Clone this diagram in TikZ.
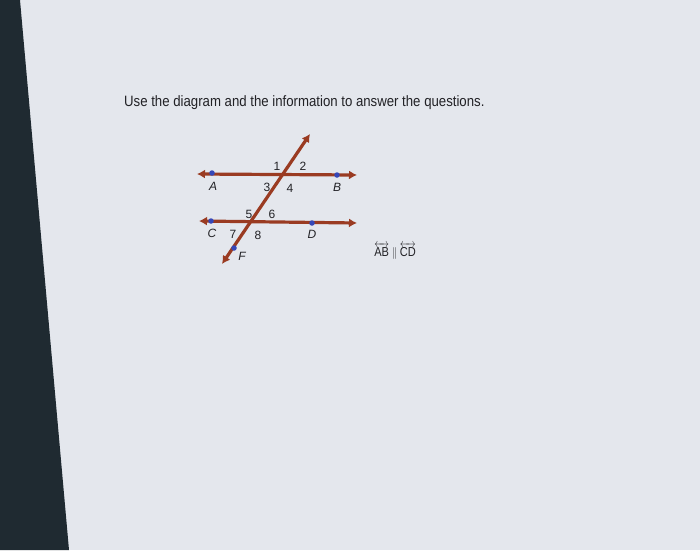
\documentclass[tikz,border=0pt]{standalone}
\usepackage{amsmath}
\usepackage{fontspec}
\setmainfont{Liberation Sans}
\usepackage{tikz}
\usetikzlibrary{positioning, arrows.meta, calc}
\definecolor{screen}{HTML}{E4E7ED}
\definecolor{bezel}{HTML}{1F2A31}
\definecolor{linered}{HTML}{9A3B22}
\definecolor{dotblue}{HTML}{3547B8}
\definecolor{inkgray}{HTML}{222226}

\begin{document}
\begin{tikzpicture}[x=1pt, y=-1pt,
    rayline/.style={draw=linered, line width=3.2pt,
        {Latex[length=8pt,width=9pt]}-{Latex[length=8pt,width=9pt]}},
    dotpt/.style={circle, fill=dotblue, inner sep=0pt, minimum size=5.5pt},
    ptlabel/.style={font=\fontsize{12}{14}\selectfont\itshape, text=inkgray},
    anglabel/.style={font=\fontsize{12}{14}\selectfont, text=inkgray}]

    % screen and monitor edge
    \fill[screen] (0,0) rectangle (700,550);
    \useasboundingbox (0,0) rectangle (700,550);
    \fill[bezel] (0,0) -- (20,0) -- (69,550) -- (0,550) -- cycle;

    % question text
    \node[anchor=base west, inner sep=0pt, text=inkgray,
        font=\fontsize{15}{18}\selectfont] (question) at (124,106)
        {\scalebox{0.88}[1]{Use the diagram and the information to answer the questions.}};

    % ends of the lines
    \coordinate (ABleft) at (197,174);
    \coordinate (ABright) at (357,175);
    \coordinate (CDleft) at (199,221);
    \coordinate (CDright) at (357,223);
    \coordinate (Ftop) at (310,134);
    \coordinate (Fbot) at (222,264);

    \draw[rayline] (ABleft) -- (ABright);
    \draw[rayline] (CDleft) -- (CDright);
    \draw[rayline] (Fbot) -- (Ftop);

    % points and their names
    \foreach \point/\px/\py/\lx/\ly in {
        A/212/173/213/186,
        B/337/175/337/187,
        C/211/221/212/233,
        D/312/223/312/234,
        F/234/248/242/256}{
        \node[dotpt] (\point) at (\px,\py) {};
        \node[ptlabel] (lab\point) at (\lx,\ly) {\point};
    }

    % angle numbers
    \foreach \i/\px/\py in {
        1/277/166,
        2/303/166,
        3/267/187,
        4/290/188,
        5/249/214,
        6/272/214,
        7/233/234,
        8/258/235}{
        \node[anglabel] (ang\i) at (\px,\py) {\i};
    }

    % given
    \node[text=inkgray, font=\fontsize{13}{15}\selectfont] (given) at (395,251)
        {\scalebox{0.85}[1]{$\overleftrightarrow{\mathrm{AB}} \parallel \overleftrightarrow{\mathrm{CD}}$}};
\end{tikzpicture}
\end{document}
